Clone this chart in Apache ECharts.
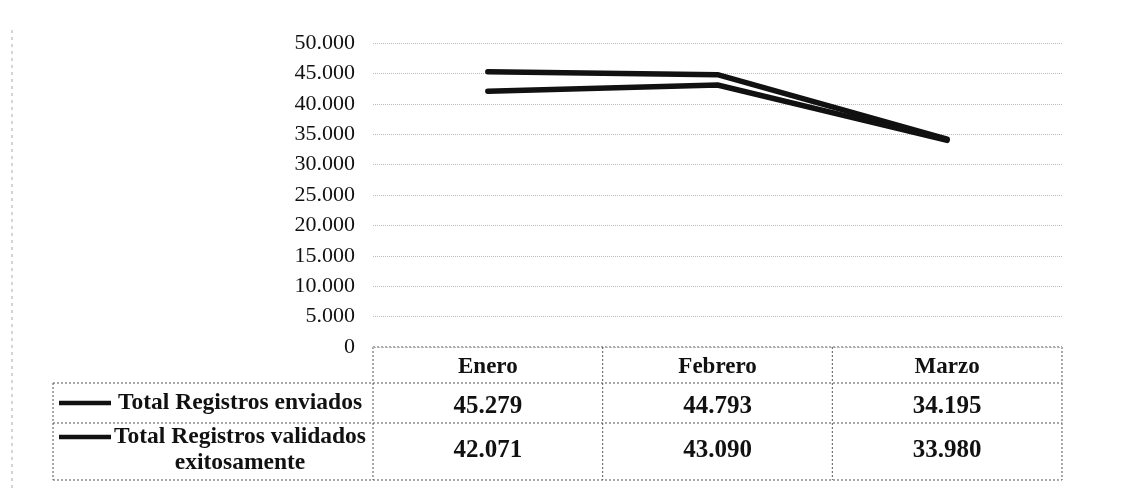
<!DOCTYPE html>
<html>
<head>
<meta charset="utf-8">
<script src="https://cdn.jsdelivr.net/npm/echarts@6/dist/echarts.min.js"></script>
<style>
  html, body { margin: 0; padding: 0; background: #fff; }
  #chart { width: 1122px; height: 491px; }
</style>
</head>
<body>
<div id="chart"></div>
<script>
var months = ['Enero', 'Febrero', 'Marzo'];
var enviados = [45279, 44793, 34195];
var validados = [42071, 43090, 33980];
var seriesNames = ['Total Registros enviados', 'Total Registros validados exitosamente'];
var legendLines = [['Total Registros enviados'], ['Total Registros validados', 'exitosamente']];
var yMin = 0, yMax = 50000, yStep = 5000;

function fmt(v) {
    return String(v).replace(/\B(?=(\d{3})+(?!\d))/g, '.');
}

document.addEventListener('DOMContentLoaded', function () {
    var chartDom = document.getElementById('chart');
    var myChart = echarts.init(chartDom);
    var option;

    // table layout (px)
    var plotLeft = 373, plotRight = 1062, axisY = 347;
    var tableLeft = 53, row1Top = 383, row2Top = 423, tableBottom = 480;
    var colW = (plotRight - plotLeft) / months.length;
    var serif = '"Liberation Serif", "DejaVu Serif", serif';
    var border = { stroke: '#555', lineWidth: 1, lineDash: [2, 2] };

    var graphics = [];
    function hline(x1, x2, y) {
        graphics.push({ type: 'line', shape: { x1: x1, y1: y, x2: x2, y2: y }, style: border, silent: true });
    }
    function vline(x, y1, y2) {
        graphics.push({ type: 'line', shape: { x1: x, y1: y1, x2: x, y2: y2 }, style: border, silent: true });
    }
    hline(plotLeft, plotRight, axisY);
    hline(tableLeft, plotRight, row1Top);
    hline(tableLeft, plotRight, row2Top);
    hline(tableLeft, plotRight, tableBottom);
    vline(tableLeft, row1Top, tableBottom);
    for (var i = 0; i <= months.length; i++) {
        vline(plotLeft + colW * i, axisY, tableBottom);
    }
    // page edge from the scan
    graphics.push({ type: 'line', shape: { x1: 12, y1: 30, x2: 12, y2: 491 },
        style: { stroke: '#aaa', lineWidth: 1, lineDash: [3, 4] }, silent: true });

    // legend keys + names in the data table
    var keyY = [(row1Top + row2Top) / 2, row2Top + 14];
    legendLines.forEach(function (lines, k) {
        graphics.push({ type: 'line', shape: { x1: 59, y1: keyY[k], x2: 111, y2: keyY[k] },
            style: { stroke: '#111', lineWidth: 4.5 }, silent: true });
        lines.forEach(function (t, j) {
            graphics.push({ type: 'text', x: 240, y: keyY[k] + j * 26,
                style: { text: t, fill: '#111', font: 'bold 23.5px ' + serif, align: 'center', verticalAlign: 'middle' },
                silent: true });
        });
    });

    var tableLabel = {
        show: true, color: '#111', fontFamily: serif, fontWeight: 'bold', fontSize: 25
    };

    option = {
        backgroundColor: '#fff',
        animation: false,
        grid: { left: plotLeft, right: 1122 - plotRight, top: 43, bottom: 491 - axisY },
        xAxis: [
            {
                type: 'category', data: months, position: 'bottom',
                axisLine: { show: false }, axisTick: { show: false },
                axisLabel: Object.assign({}, tableLabel, { margin: 9, fontSize: 23 })
            },
            {
                type: 'category', data: months, position: 'bottom',
                axisLine: { show: false }, axisTick: { show: false },
                axisLabel: Object.assign({}, tableLabel, {
                    margin: 47,
                    formatter: function (v, idx) { return fmt(enviados[idx]); }
                })
            },
            {
                type: 'category', data: months, position: 'bottom',
                axisLine: { show: false }, axisTick: { show: false },
                axisLabel: Object.assign({}, tableLabel, {
                    margin: 91,
                    formatter: function (v, idx) { return fmt(validados[idx]); }
                })
            }
        ],
        yAxis: {
            type: 'value', min: yMin, max: yMax, interval: yStep,
            axisLine: { show: false }, axisTick: { show: false },
            axisLabel: {
                margin: 18, color: '#111', fontFamily: serif, fontSize: 22,
                formatter: function (v) { return fmt(v); }
            },
            splitLine: { lineStyle: { color: '#bbb', type: 'dotted', width: 1 } }
        },
        series: [
            {
                name: seriesNames[0], type: 'line', data: enviados,
                showSymbol: false, symbol: 'none',
                lineStyle: { color: '#111', width: 5.5, cap: 'round' }
            },
            {
                name: seriesNames[1], type: 'line', data: validados,
                showSymbol: false, symbol: 'none',
                lineStyle: { color: '#111', width: 5.5, cap: 'round' }
            }
        ],
        graphic: graphics
    };

    option && myChart.setOption(option);
});
</script>
</body>
</html>
